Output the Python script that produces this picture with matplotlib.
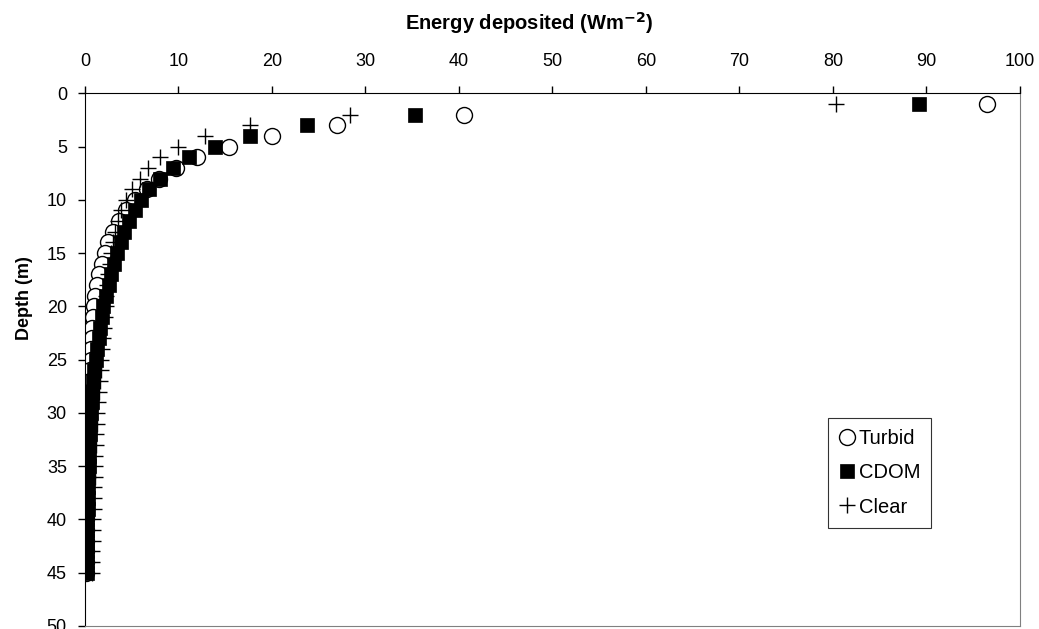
import numpy as np
import matplotlib
matplotlib.use('Agg')
import matplotlib.pyplot as plt

plt.rcParams['font.family'] = ['Liberation Sans', 'DejaVu Sans']

# depth of each layer (m)
depth = list(range(1, 46))

# energy deposited per layer (W m-2)
turbid = [96.5, 40.5, 27.0, 20.0, 15.4, 12.0, 9.7, 7.9, 6.6, 5.4,
          4.4, 3.6, 3.0, 2.5, 2.1, 1.8, 1.5, 1.3, 1.1, 0.95,
          0.85, 0.78, 0.72, 0.66, 0.6, 0.55, 0.5, 0.45, 0.4, 0.36,
          0.32, 0.28, 0.25, 0.22, 0.2, 0.18, 0.16, 0.14, 0.12, 0.11,
          0.1, 0.09, 0.08, 0.07, 0.06]
cdom = [89.2, 35.3, 23.7, 17.6, 13.9, 11.1, 9.4, 8.0, 6.8, 6.0,
        5.3, 4.7, 4.2, 3.8, 3.4, 3.1, 2.8, 2.55, 2.3, 1.95,
        1.8, 1.6, 1.45, 1.32, 1.2, 1.0, 0.9, 0.8, 0.7, 0.62,
        0.56, 0.5, 0.46, 0.42, 0.38, 0.35, 0.32, 0.29, 0.27, 0.25,
        0.23, 0.21, 0.2, 0.19, 0.18]
clear = [80.3, 28.3, 17.6, 12.8, 9.9, 8.0, 6.7, 5.9, 5.0, 4.4,
         3.9, 3.5, 3.2, 3.0, 2.8, 2.65, 2.5, 2.4, 2.3, 2.2,
         2.1, 2.0, 1.9, 1.82, 1.75, 1.66, 1.57, 1.48, 1.4, 1.32,
         1.27, 1.22, 1.16, 1.1, 1.06, 1.02, 0.98, 0.95, 0.92, 0.88,
         0.86, 0.83, 0.8, 0.78, 0.76]

fig = plt.figure(figsize=(10.39, 6.29), dpi=100)
ax = fig.add_axes([0.0818, 0.0048, 0.8999, 0.8469])

ax.plot(turbid, depth, 'o', ms=11.5, mfc='white', mec='black', mew=1.0,
        ls='none', label='Turbid')
ax.plot(cdom, depth, 's', ms=9.6, mfc='black', mec='black', mew=0.5,
        ls='none', label='CDOM')
ax.plot(clear, depth, '+', ms=11.3, mec='black', mew=1.0,
        ls='none', label='Clear')

ax.set_xlim(0, 100)
ax.set_ylim(50, 0)
ax.set_xticks(np.arange(0, 101, 10))
ax.set_yticks(np.arange(0, 51, 5))
ax.xaxis.tick_top()
ax.xaxis.set_label_position('top')
ax.tick_params(direction='out', length=5, width=1, labelsize=13)
ax.tick_params(axis='x', pad=12)
ax.tick_params(axis='y', pad=8)

ax.spines['top'].set_color('black')
ax.spines['left'].set_color('black')
ax.spines['right'].set_color('#808080')
ax.spines['bottom'].set_color('#808080')

ax.set_xlabel('Energy deposited (Wm$^{\\mathbf{-2}}$)', fontsize=14.5,
              fontweight='bold')
ax.set_ylabel('Depth (m)', fontsize=13, fontweight='bold')
ax.xaxis.set_label_coords(0.475, 1.119)
ax.yaxis.set_label_coords(-0.056, 0.616)

leg = ax.legend(loc='upper left', bbox_to_anchor=(0.795, 0.39),
                fontsize=14.5, frameon=True, fancybox=False,
                handlelength=0.8, handletextpad=0.15, labelspacing=0.75,
                borderpad=0.55, borderaxespad=0)
leg.get_frame().set_edgecolor('black')
leg.get_frame().set_linewidth(0.8)

fig.savefig('out.png', dpi=100)
